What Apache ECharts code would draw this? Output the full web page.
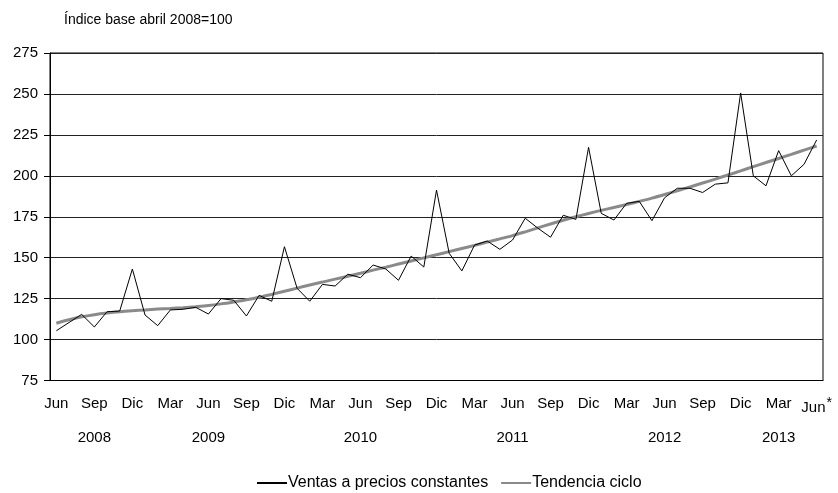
<!DOCTYPE html>
<html>
<head>
<meta charset="utf-8">
<script src="https://cdn.jsdelivr.net/npm/echarts@6/dist/echarts.min.js"></script>
<style>
  html, body { margin: 0; padding: 0; background: #fff; }
  #chart { width: 838px; height: 493px; }
</style>
</head>
<body>
<div id="chart"></div>
<script>
// Meses del eje (junio 2008 a junio 2013)
const monthNames = ['Ene', 'Feb', 'Mar', 'Abr', 'May', 'Jun', 'Jul', 'Ago', 'Sep', 'Oct', 'Nov', 'Dic'];
const startYear = 2008, startMonth = 5, monthCount = 61;

// Índice de ventas a precios constantes
const ventas = [
  105.4, 110.4, 115.4, 107.7, 117.0, 117.4, 143.1, 115.0, 108.5, 118.1,
  118.5, 119.7, 115.6, 125.0, 124.0, 114.4, 127.0, 123.4, 156.7, 131.3,
  123.4, 133.7, 132.7, 139.9, 137.8, 145.5, 143.1, 136.2, 151.0, 144.3,
  191.3, 152.7, 141.9, 157.7, 160.2, 155.1, 160.8, 174.1, 168.0, 162.5,
  175.9, 173.4, 217.4, 177.1, 173.0, 183.2, 184.4, 172.6, 186.6, 192.4,
  192.4, 189.8, 194.9, 195.7, 250.6, 200.0, 193.9, 215.4, 200.0, 207.0,
  221.9
];

// Tendencia ciclo
const tendencia = [
  110.0, 112.1, 113.9, 115.2, 116.2, 117.0, 117.6, 118.1, 118.6, 119.0,
  119.5, 120.1, 120.8, 121.8, 123.0, 124.3, 125.8, 127.6, 129.5, 131.4,
  133.3, 135.1, 136.9, 138.7, 140.5, 142.4, 144.2, 146.1, 148.0, 149.9,
  151.8, 153.7, 155.6, 157.5, 159.5, 161.5, 163.5, 165.8, 168.2, 170.6,
  172.9, 175.0, 177.0, 178.9, 180.7, 182.5, 184.4, 186.4, 188.6, 190.9,
  193.2, 195.6, 198.0, 200.5, 203.0, 205.6, 208.1, 210.6, 213.1, 215.7,
  218.2
];

// Rótulos de año y el mes bajo el que se centran
const yearLabels = ['2008', '2009', '2010', '2011', '2012', '2013'];
const yearAt = ['Sep 2008', 'Jun 2009', 'Jun 2010', 'Jun 2011', 'Jun 2012', 'Mar 2013'];

const categories = [];
for (let i = 0; i < monthCount; i++) {
  const m = (startMonth + i) % 12;
  const y = startYear + Math.floor((startMonth + i) / 12);
  categories.push(monthNames[m] + ' ' + y);
}

const font = 'Liberation Sans, Arial, sans-serif';
const fs = 15;
const chart = echarts.init(document.getElementById('chart'));

chart.setOption({
  animation: false,
  title: {
    text: 'Índice base abril 2008=100',
    left: 59, top: 8,
    textStyle: { fontFamily: font, fontSize: 14, fontWeight: 'normal', color: '#000' }
  },
  grid: {
    left: 50, right: 15, top: 53, bottom: 112.5,
    show: true, borderColor: '#000', borderWidth: 1
  },
  legend: {
    top: 470,
    left: 251,
    itemWidth: 30,
    itemHeight: 14,
    itemGap: 12,
    itemStyle: { opacity: 0 },
    textStyle: { fontFamily: font, fontSize: 16, color: '#000', padding: [0, 0, 0, -4] },
    data: ['Ventas a precios constantes', 'Tendencia ciclo']
  },
  xAxis: [
    {
      type: 'category',
      data: categories,
      boundaryGap: true,
      axisLine: { lineStyle: { color: '#000', width: 1 } },
      axisTick: { show: false },
      axisLabel: {
        interval: 2,
        margin: 16,
        fontFamily: font, fontSize: fs, color: '#000',
        formatter: function (v, idx) {
          const mon = v.split(' ')[0];
          return idx === monthCount - 1 ? mon + '{a|*}' : mon;
        },
        rich: {
          a: { fontFamily: font, fontSize: 14, color: '#000', verticalAlign: 'top', padding: [0, 0, 8, 1] }
        }
      },
      splitLine: { show: false }
    },
    {
      type: 'category',
      data: categories,
      position: 'bottom',
      offset: 34,
      boundaryGap: true,
      axisLine: { show: false },
      axisTick: { show: false },
      axisLabel: {
        interval: function (idx, v) { return yearAt.indexOf(v) >= 0; },
        margin: 16,
        fontFamily: font, fontSize: fs, color: '#000',
        formatter: function (v) { return yearLabels[yearAt.indexOf(v)]; }
      },
      splitLine: { show: false }
    }
  ],
  yAxis: {
    type: 'value',
    min: 75, max: 275, interval: 25,
    axisLine: { show: true, lineStyle: { color: '#000', width: 1 } },
    axisTick: { show: true, length: 6, lineStyle: { color: '#000' } },
    axisLabel: { margin: 12, fontFamily: font, fontSize: fs, color: '#000' },
    splitLine: { show: true, lineStyle: { color: '#222', width: 1 } }
  },
  series: [
    {
      name: 'Ventas a precios constantes',
      type: 'line',
      data: ventas,
      symbol: 'none',
      lineStyle: { color: '#000', width: 1 },
      itemStyle: { color: '#000' },
      z: 3
    },
    {
      name: 'Tendencia ciclo',
      type: 'line',
      data: tendencia,
      symbol: 'none',
      smooth: 0.3,
      lineStyle: { color: '#8a8a8a', width: 3 },
      itemStyle: { color: '#8a8a8a' },
      z: 2
    }
  ]
});
</script>
</body>
</html>
